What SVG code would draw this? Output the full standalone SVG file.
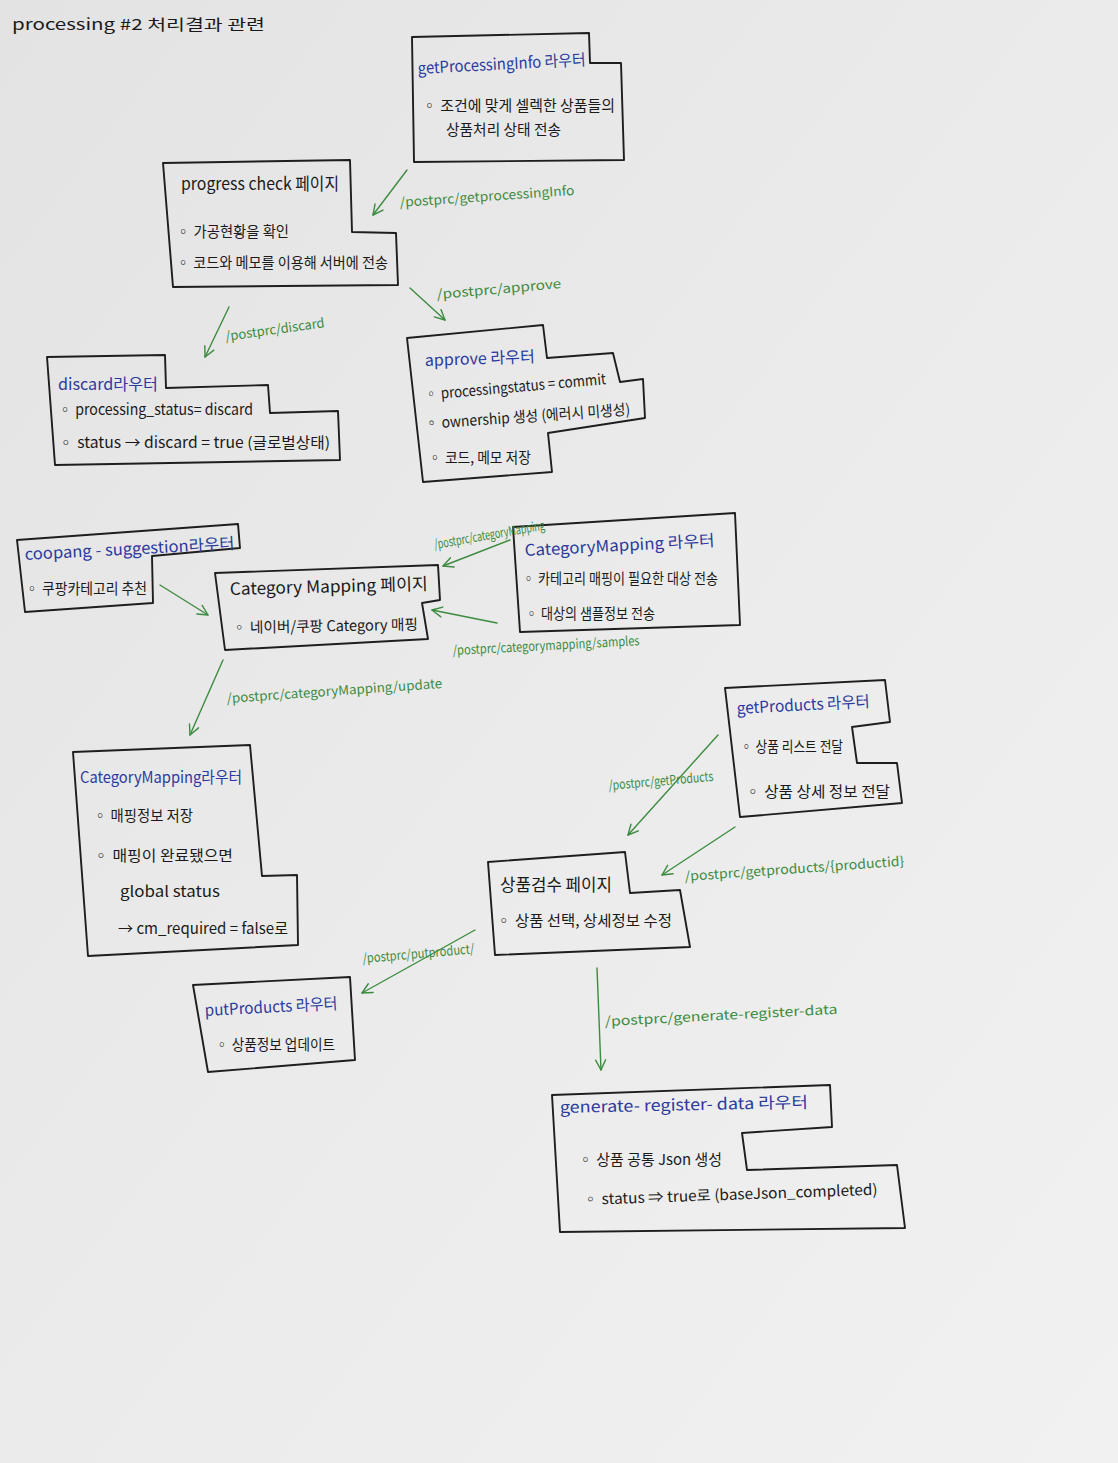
<svg xmlns="http://www.w3.org/2000/svg" width="1118" height="1463" viewBox="0 0 1118 1463">
  <defs>
    <linearGradient id="paper" x1="0" y1="0" x2="1" y2="1">
      <stop offset="0" stop-color="#e3e3e3"/>
      <stop offset="0.5" stop-color="#ebebeb"/>
      <stop offset="1" stop-color="#f1f1f1"/>
    </linearGradient>
    <marker id="arrow" viewBox="0 0 12 12" refX="11" refY="6" markerWidth="12" markerHeight="12" markerUnits="userSpaceOnUse" orient="auto">
      <path d="M1,1 L11,6 L1,11" fill="none" stroke="#3d8b40" stroke-width="1.4" stroke-linecap="round" stroke-linejoin="round"/>
    </marker>
    <style>
      .box { fill: none; stroke: #1e1e1e; stroke-width: 1.9; stroke-linejoin: round; stroke-linecap: round; }
      .t { font-family: "Noto Sans CJK KR", "Noto Sans", sans-serif; fill: #1a1a1a; font-size: 15px; }
      .h { font-family: "Noto Sans CJK KR", "Noto Sans", sans-serif; fill: #2b3a9e; font-size: 16px; }
      .pg { font-family: "Noto Sans CJK KR", "Noto Sans", sans-serif; fill: #1a1a1a; font-size: 17px; }
      .lbl { font-family: "Noto Sans CJK KR", "Noto Sans", sans-serif; fill: #3d8b40; font-size: 13px; }
      .edge { fill: none; stroke: #3d8b40; stroke-width: 1.4; stroke-linecap: round; marker-end: url(#arrow); }
    </style>
  </defs>

  <rect width="1118" height="1463" fill="url(#paper)"/>

  <text class="t" x="12" y="30" font-size="19" textLength="253" lengthAdjust="spacingAndGlyphs">processing #2  처리결과  관련</text>

  <!-- getProcessingInfo router -->
  <g id="node-getProcessingInfo">
    <polygon class="box" points="412,37 589,33 590,63 621,63 624,160 414,162"/>
    <text class="h" x="418" y="74" textLength="168" lengthAdjust="spacingAndGlyphs" transform="rotate(-3 418 74)">getProcessingInfo 라우터</text>
    <text class="t" x="422" y="111" textLength="193" lengthAdjust="spacingAndGlyphs">◦ 조건에 맞게 셀렉한 상품들의</text>
    <text class="t" x="446" y="135" textLength="115" lengthAdjust="spacingAndGlyphs">상품처리 상태 전송</text>
  </g>

  <!-- progress check page -->
  <g id="node-progressCheck">
    <polygon class="box" points="163,163 350,160 352,232 396,233 398,285 173,287"/>
    <text class="pg" x="181" y="190" textLength="158" lengthAdjust="spacingAndGlyphs">progress check 페이지</text>
    <text class="t" x="176" y="237" textLength="113" lengthAdjust="spacingAndGlyphs">◦ 가공현황을 확인</text>
    <text class="t" x="176" y="268" textLength="212" lengthAdjust="spacingAndGlyphs">◦ 코드와 메모를 이용해 서버에 전송</text>
  </g>

  <!-- discard router -->
  <g id="node-discard">
    <polygon class="box" points="47,357 165,355 166,388 268,385 270,413 338,411 340,460 55,465"/>
    <text class="h" x="58" y="390" textLength="100" lengthAdjust="spacingAndGlyphs">discard라우터</text>
    <text class="t" x="58" y="415" textLength="195" lengthAdjust="spacingAndGlyphs">◦ processing_status= discard</text>
    <text class="t" x="58" y="448" textLength="272" lengthAdjust="spacingAndGlyphs">◦ status → discard = true (글로벌상태)</text>
  </g>

  <!-- approve router -->
  <g id="node-approve">
    <polygon class="box" points="407,338 543,325 547,358 613,353 620,382 643,379 645,418 548,433 552,472 423,482"/>
    <text class="h" x="425" y="366" font-size="17" textLength="110" lengthAdjust="spacingAndGlyphs" transform="rotate(-2 425 366)">approve 라우터</text>
    <text class="t" x="425" y="400" textLength="182" lengthAdjust="spacingAndGlyphs" transform="rotate(-5 425 400)">◦ processingstatus = commit</text>
    <text class="t" x="425" y="429" textLength="206" lengthAdjust="spacingAndGlyphs" transform="rotate(-4 425 429)">◦ ownership 생성 (에러시 미생성)</text>
    <text class="t" x="428" y="463" textLength="103" lengthAdjust="spacingAndGlyphs">◦ 코드, 메모 저장</text>
  </g>

  <!-- coopang-suggestion router -->
  <g id="node-coopangSuggestion">
    <polygon class="box" points="17,540 238,524 240,548 152,556 153,603 25,612"/>
    <text class="h" x="25" y="560" textLength="210" lengthAdjust="spacingAndGlyphs" transform="rotate(-3 25 560)">coopang - suggestion라우터</text>
    <text class="t" x="25" y="594" textLength="122" lengthAdjust="spacingAndGlyphs">◦ 쿠팡카테고리 추천</text>
  </g>

  <!-- CategoryMapping page -->
  <g id="node-categoryMappingPage">
    <polygon class="box" points="215,573 438,565 440,600 422,603 428,639 225,650"/>
    <text class="pg" x="230" y="595" font-size="18" textLength="198" lengthAdjust="spacingAndGlyphs" transform="rotate(-1.5 230 595)">Category Mapping 페이지</text>
    <text class="t" x="232" y="633" textLength="186" lengthAdjust="spacingAndGlyphs" transform="rotate(-1 232 633)">◦ 네이버/쿠팡 Category 매핑</text>
  </g>

  <!-- CategoryMapping router (sources) -->
  <g id="node-categoryMappingRouterTop">
    <polygon class="box" points="513,527 735,513 740,625 520,632"/>
    <text class="h" x="525" y="556" textLength="190" lengthAdjust="spacingAndGlyphs" transform="rotate(-3 525 556)">CategoryMapping 라우터</text>
    <text class="t" x="522" y="584" textLength="196" lengthAdjust="spacingAndGlyphs">◦ 카테고리 매핑이 필요한 대상 전송</text>
    <text class="t" x="525" y="619" textLength="130" lengthAdjust="spacingAndGlyphs">◦ 대상의 샘플정보 전송</text>
  </g>

  <!-- CategoryMapping router (update) -->
  <g id="node-categoryMappingRouterUpdate">
    <polygon class="box" points="73,752 250,745 262,876 297,875 298,945 88,956"/>
    <text class="h" x="80" y="783" font-size="15" textLength="162" lengthAdjust="spacingAndGlyphs">CategoryMapping라우터</text>
    <text class="t" x="93" y="821" textLength="100" lengthAdjust="spacingAndGlyphs">◦ 매핑정보 저장</text>
    <text class="t" x="93" y="861" textLength="140" lengthAdjust="spacingAndGlyphs">◦ 매핑이 완료됐으면</text>
    <text class="t" x="120" y="897" textLength="100" lengthAdjust="spacingAndGlyphs">global status</text>
    <text class="t" x="118" y="934" textLength="170" lengthAdjust="spacingAndGlyphs">→ cm_required = false로</text>
  </g>

  <!-- getProducts router -->
  <g id="node-getProducts">
    <polygon class="box" points="725,688 885,680 890,722 852,727 857,763 897,763 902,803 740,817"/>
    <text class="h" x="737" y="714" font-size="17" textLength="133" lengthAdjust="spacingAndGlyphs" transform="rotate(-3 737 714)">getProducts 라우터</text>
    <text class="t" x="740" y="752" textLength="103" lengthAdjust="spacingAndGlyphs">◦ 상품 리스트 전달</text>
    <text class="t" x="745" y="797" textLength="145" lengthAdjust="spacingAndGlyphs">◦ 상품 상세 정보 전달</text>
  </g>

  <!-- product inspection page -->
  <g id="node-productInspection">
    <polygon class="box" points="488,862 625,852 630,893 680,890 690,947 495,955"/>
    <text class="pg" x="500" y="891" font-size="20" textLength="112" lengthAdjust="spacingAndGlyphs">상품검수 페이지</text>
    <text class="t" x="496" y="926" textLength="176" lengthAdjust="spacingAndGlyphs">◦ 상품 선택, 상세정보 수정</text>
  </g>

  <!-- putProducts router -->
  <g id="node-putProducts">
    <polygon class="box" points="193,985 350,977 355,1060 208,1072"/>
    <text class="h" x="205" y="1016" font-size="17" textLength="133" lengthAdjust="spacingAndGlyphs" transform="rotate(-3 205 1016)">putProducts 라우터</text>
    <text class="t" x="215" y="1050" textLength="120" lengthAdjust="spacingAndGlyphs">◦ 상품정보 업데이트</text>
  </g>

  <!-- generate-register-data router -->
  <g id="node-generateRegisterData">
    <polygon class="box" points="552,1095 830,1085 832,1127 742,1133 747,1170 897,1165 905,1228 560,1232"/>
    <text class="h" x="560" y="1113" font-size="17" textLength="248" lengthAdjust="spacingAndGlyphs" transform="rotate(-1.2 560 1113)">generate- register- data 라우터</text>
    <text class="t" x="578" y="1165" textLength="144" lengthAdjust="spacingAndGlyphs">◦ 상품 공통 Json 생성</text>
    <text class="t" x="583" y="1205" textLength="295" lengthAdjust="spacingAndGlyphs" transform="rotate(-2 583 1205)">◦ status ⇒ true로 (baseJson_completed)</text>
  </g>

  <!-- connectors -->
  <g id="connectors">
    <line class="edge" x1="407" y1="170" x2="373" y2="215"/>
    <text class="lbl" x="400" y="207" textLength="175" lengthAdjust="spacingAndGlyphs" transform="rotate(-4 400 207)">/postprc/getprocessingInfo</text>

    <line class="edge" x1="410" y1="288" x2="445" y2="320"/>
    <text class="lbl" x="437" y="299" textLength="125" lengthAdjust="spacingAndGlyphs" transform="rotate(-5 437 299)">/postprc/approve</text>

    <line class="edge" x1="229" y1="307" x2="205" y2="357"/>
    <text class="lbl" x="226" y="341" textLength="100" lengthAdjust="spacingAndGlyphs" transform="rotate(-8 226 341)">/postprc/discard</text>

    <line class="edge" x1="160" y1="585" x2="208" y2="615"/>

    <line class="edge" x1="510" y1="540" x2="443" y2="566"/>
    <text class="lbl" x="435" y="549" font-size="10" textLength="112" lengthAdjust="spacingAndGlyphs" transform="rotate(-10 435 549)">/postprc/categoryMapping</text>

    <line class="edge" x1="497" y1="623" x2="432" y2="610"/>
    <text class="lbl" x="453" y="655" font-size="12" textLength="187" lengthAdjust="spacingAndGlyphs" transform="rotate(-3 453 655)">/postprc/categorymapping/samples</text>

    <line class="edge" x1="223" y1="660" x2="190" y2="735"/>
    <text class="lbl" x="227" y="703" font-size="14" textLength="216" lengthAdjust="spacingAndGlyphs" transform="rotate(-4 227 703)">/postprc/categoryMapping/update</text>

    <line class="edge" x1="718" y1="735" x2="628" y2="835"/>
    <text class="lbl" x="609" y="790" font-size="12" textLength="105" lengthAdjust="spacingAndGlyphs" transform="rotate(-5 609 790)">/postprc/getProducts</text>

    <line class="edge" x1="735" y1="827" x2="662" y2="875"/>
    <text class="lbl" x="685" y="881" textLength="220" lengthAdjust="spacingAndGlyphs" transform="rotate(-4 685 881)">/postprc/getproducts/{productid}</text>

    <line class="edge" x1="475" y1="930" x2="362" y2="993"/>
    <text class="lbl" x="363" y="963" font-size="12" textLength="112" lengthAdjust="spacingAndGlyphs" transform="rotate(-5 363 963)">/postprc/putproduct/</text>

    <line class="edge" x1="597" y1="968" x2="601" y2="1070"/>
    <text class="lbl" x="605" y="1026" font-size="14" textLength="233" lengthAdjust="spacingAndGlyphs" transform="rotate(-3 605 1026)">/postprc/generate-register-data</text>
  </g>
</svg>
